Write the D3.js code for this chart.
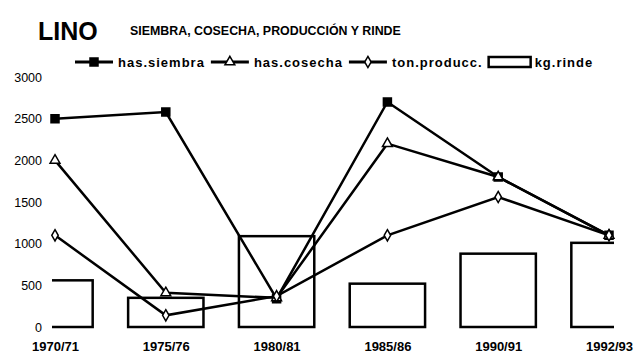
<!DOCTYPE html>
<html>
<head>
<meta charset="utf-8">
<script src="https://cdn.jsdelivr.net/npm/d3@7"></script>
<style>
  body { margin: 0; background: #fff; }
  svg text { font-family: "Liberation Sans", Arial, sans-serif; fill: #000; }
</style>
</head>
<body>
<div id="chart"></div>
<script>
// datos
const periodos   = ["1970/71","1975/76","1980/81","1985/86","1990/91","1992/93"];
const hasSiembra = [2500, 2580, 340, 2700, 1800, 1100];
const hasCosecha = [2000, 410, 350, 2200, 1800, 1100];
const tonProducc = [1100, 140, 370, 1100, 1560, 1100];
const kgRinde    = [560, 350, 1090, 520, 880, 1010];
const yTicks     = [0, 500, 1000, 1500, 2000, 2500, 3000];

const W = 639, H = 355;

const svg = d3.select("#chart").append("svg")
  .attr("width", W).attr("height", H);

// escalas
const x = d3.scalePoint().domain(periodos).range([55, 609]);
const y = d3.scaleLinear().domain([0, 3000]).range([327, 77]);
const barW = x.step() * 0.68;

// titulo
svg.append("text")
  .attr("x", 38).attr("y", 40)
  .style("font-size", "25px").style("font-weight", "bold")
  .text("LINO");
svg.append("text")
  .attr("x", 130).attr("y", 35)
  .style("font-size", "12.4px").style("font-weight", "bold")
  .text("SIEMBRA, COSECHA, PRODUCCIÓN Y RINDE");

// eje y (solo etiquetas)
const yAxis = svg.append("g")
  .attr("transform", "translate(42,0)")
  .call(d3.axisLeft(y).tickValues(yTicks).tickSize(0).tickPadding(0).tickFormat(d3.format("d")));
yAxis.select(".domain").remove();
yAxis.selectAll("text")
  .style("font-size", "12.5px")
  .style("font-family", "'Liberation Sans', Arial, sans-serif");

// eje x (solo etiquetas)
const xAxis = svg.append("g")
  .attr("transform", "translate(0,340)")
  .call(d3.axisBottom(x).tickSize(0).tickPadding(0));
xAxis.select(".domain").remove();
xAxis.selectAll("text")
  .attr("dy", "0.85em")
  .style("font-size", "13px").style("font-weight", "bold")
  .style("font-family", "'Liberation Sans', Arial, sans-serif");

// area recortada
svg.append("clipPath").attr("id", "plot")
  .append("rect").attr("x", 52).attr("y", 60).attr("width", 562).attr("height", 270);

const plot = svg.append("g").attr("clip-path", "url(#plot)");

// barras kg.rinde
plot.selectAll("rect.bar")
  .data(kgRinde)
  .enter().append("rect")
    .attr("class", "bar")
    .attr("x", (d, i) => x(periodos[i]) - barW / 2)
    .attr("y", d => y(d))
    .attr("width", barW)
    .attr("height", d => y(0) - y(d))
    .attr("fill", "#fff")
    .attr("stroke", "#000")
    .attr("stroke-width", 2.5);

const line = d3.line()
  .x((d, i) => x(periodos[i]))
  .y(d => y(d));

const series = [
  { name: "has.siembra",  values: hasSiembra, sym: d3.symbolSquare,   size: 64, fill: "#000" },
  { name: "has.cosecha",  values: hasCosecha, sym: d3.symbolTriangle, size: 42, fill: "#fff" },
  { name: "ton.producc.", values: tonProducc, sym: d3.symbolDiamond,  size: 36, fill: "#fff" }
];

series.forEach(s => {
  svg.append("path")
    .datum(s.values)
    .attr("fill", "none")
    .attr("stroke", "#000")
    .attr("stroke-width", 2.5)
    .attr("d", line);
});
series.forEach(s => {
  svg.selectAll(null)
    .data(s.values)
    .enter().append("path")
      .attr("transform", (d, i) => `translate(${x(periodos[i])},${y(d)})`)
      .attr("d", d3.symbol().type(s.sym).size(s.size))
      .attr("fill", s.fill)
      .attr("stroke", "#000")
      .attr("stroke-width", 1.5);
});

// leyenda
const legend = svg.append("g").attr("transform", "translate(75,62)");
let lx = 0;
series.forEach(s => {
  legend.append("line")
    .attr("x1", lx).attr("x2", lx + 38).attr("y1", 0).attr("y2", 0)
    .attr("stroke", "#000").attr("stroke-width", 3);
  legend.append("path")
    .attr("transform", `translate(${lx + 19},0)`)
    .attr("d", d3.symbol().type(s.sym).size(s.size))
    .attr("fill", s.fill).attr("stroke", "#000").attr("stroke-width", 1.5);
  const t = legend.append("text")
    .attr("x", lx + 43).attr("y", 5)
    .style("font-size", "13px").style("font-weight", "bold")
    .style("letter-spacing", "1px")
    .text(s.name);
  lx += 43 + t.node().getComputedTextLength() + 6;
});
legend.append("rect")
  .attr("x", lx).attr("y", -5).attr("width", 42).attr("height", 10)
  .attr("fill", "#fff").attr("stroke", "#000").attr("stroke-width", 2.5);
legend.append("text")
  .attr("x", lx + 46).attr("y", 5)
  .style("font-size", "13px").style("font-weight", "bold")
  .style("letter-spacing", "1px")
  .text("kg.rinde");
</script>
</body>
</html>
